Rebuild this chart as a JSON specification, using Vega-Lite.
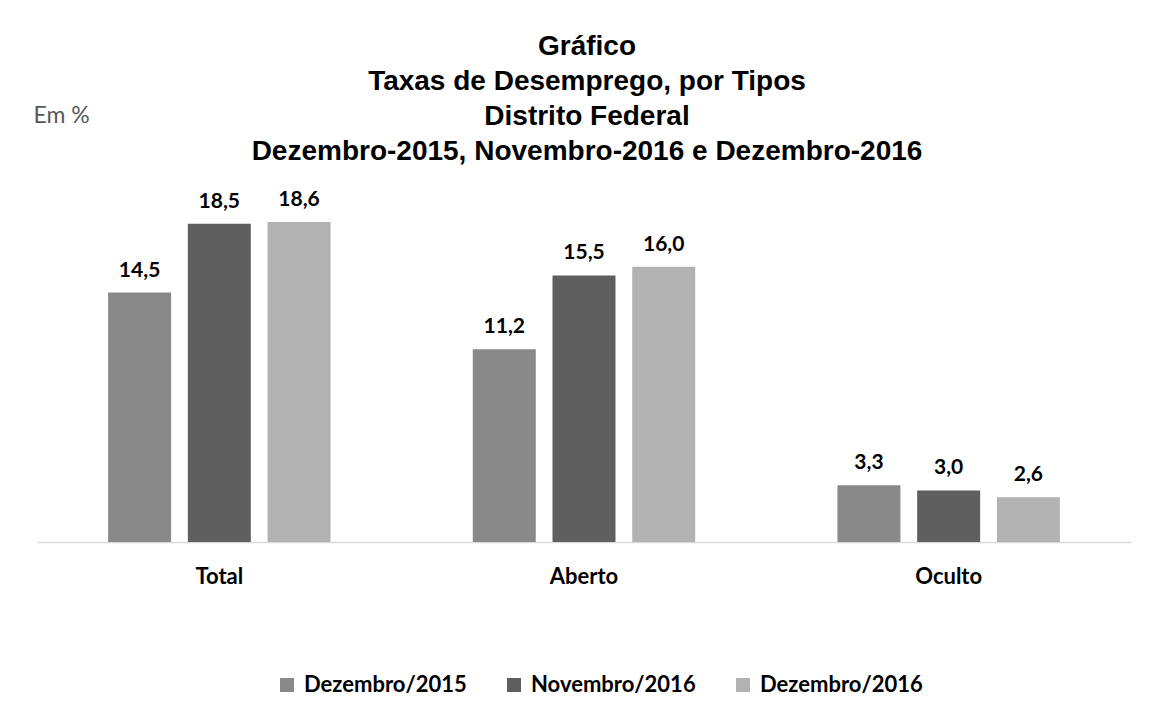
{
  "$schema": "https://vega.github.io/schema/vega-lite/v6.json",
  "autosize": "none",
  "width": 1094,
  "height": 344,
  "padding": {"left": 37, "top": 198, "right": 25, "bottom": 171},
  "background": "white",
  "title": {
    "text": ["Gráfico", "Taxas de Desemprego, por Tipos", "Distrito Federal", "Dezembro-2015, Novembro-2016 e Dezembro-2016"],
    "font": "Liberation Sans",
    "fontSize": 28,
    "fontWeight": "bold",
    "color": "#000000",
    "lineHeight": 35,
    "baseline": "bottom",
    "anchor": "middle",
    "frame": "group",
    "offset": -90,
    "dx": 3
  },
  "data": {
    "values": [
      {"tipo": "Total", "serie": "Dezembro/2015", "valor": 14.5, "rotulo": "14,5"},
      {"tipo": "Total", "serie": "Novembro/2016", "valor": 18.5, "rotulo": "18,5"},
      {"tipo": "Total", "serie": "Dezembro/2016", "valor": 18.6, "rotulo": "18,6"},
      {"tipo": "Aberto", "serie": "Dezembro/2015", "valor": 11.2, "rotulo": "11,2"},
      {"tipo": "Aberto", "serie": "Novembro/2016", "valor": 15.5, "rotulo": "15,5"},
      {"tipo": "Aberto", "serie": "Dezembro/2016", "valor": 16.0, "rotulo": "16,0"},
      {"tipo": "Oculto", "serie": "Dezembro/2015", "valor": 3.3, "rotulo": "3,3"},
      {"tipo": "Oculto", "serie": "Novembro/2016", "valor": 3.0, "rotulo": "3,0"},
      {"tipo": "Oculto", "serie": "Dezembro/2016", "valor": 2.6, "rotulo": "2,6"}
    ]
  },
  "encoding": {
    "x": {
      "field": "tipo", "type": "nominal", "sort": ["Total", "Aberto", "Oculto"],
      "scale": {"paddingInner": 0.39, "paddingOuter": 0.195},
      "axis": {
        "title": null, "labelAngle": 0, "ticks": false,
        "domainColor": "#d9d9d9", "domainWidth": 1.5,
        "labelFont": "Lato", "labelFontSize": 22, "labelFontWeight": "bold", "labelColor": "#000000",
        "labelBaseline": "alphabetic", "labelPadding": 41
      }
    },
    "xOffset": {
      "field": "serie", "type": "nominal", "sort": ["Dezembro/2015", "Novembro/2016", "Dezembro/2016"],
      "scale": {"paddingInner": 0.21, "paddingOuter": 0}
    },
    "y": {
      "field": "valor", "type": "quantitative",
      "scale": {"domain": [0, 20], "nice": false},
      "axis": {
        "title": "Em %", "titleAngle": 0, "titleAlign": "left", "titleBaseline": "alphabetic",
        "titleX": -4, "titleY": -76, "titleFont": "Lato", "titleFontSize": 23, "titleFontWeight": "normal",
        "titleColor": "#595959",
        "labels": false, "ticks": false, "domain": false, "grid": false
      }
    }
  },
  "layer": [
    {
      "mark": {"type": "bar"},
      "encoding": {
        "color": {
          "field": "serie", "type": "nominal", "sort": ["Dezembro/2015", "Novembro/2016", "Dezembro/2016"],
          "scale": {"domain": ["Dezembro/2015", "Novembro/2016", "Dezembro/2016"], "range": ["#898989", "#5f5f5f", "#b2b2b2"]},
          "legend": {
            "title": null, "orient": "none", "direction": "horizontal",
            "legendX": 239, "legendY": 476,
            "symbolType": "square", "symbolSize": 196, "symbolStrokeWidth": 0,
            "labelFont": "Lato", "labelFontSize": 22, "labelFontWeight": "bold", "labelColor": "#000000",
            "labelOffset": 6, "columnPadding": 36, "labelLimit": 400
          }
        }
      }
    },
    {
      "mark": {"type": "text", "baseline": "alphabetic", "dy": -16, "font": "Lato", "fontSize": 21, "fontWeight": "bold", "color": "#000000"},
      "encoding": {
        "text": {"field": "rotulo"}
      }
    }
  ],
  "config": {"view": {"stroke": null}}
}
